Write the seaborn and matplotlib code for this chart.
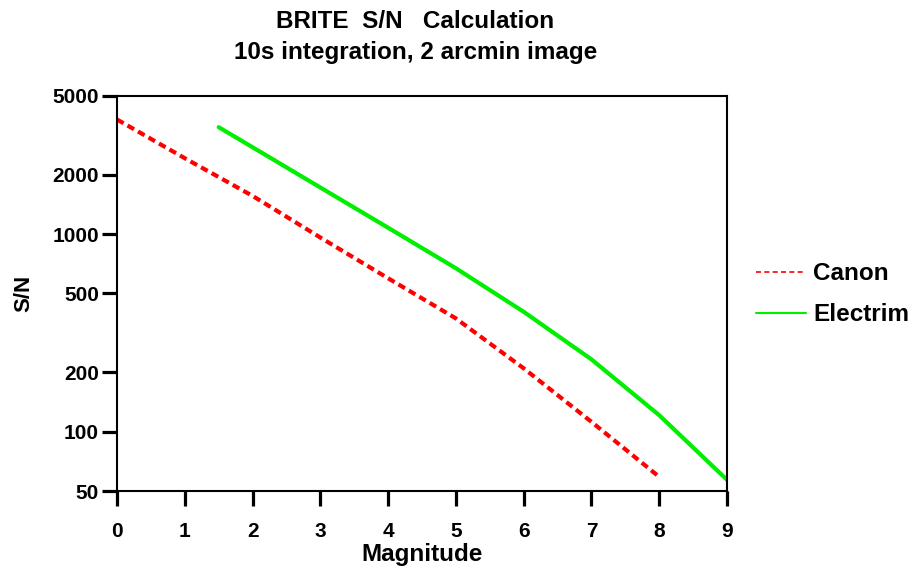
import numpy as np
import matplotlib
matplotlib.use("Agg")
import matplotlib.pyplot as plt
import matplotlib.ticker as mticker
from matplotlib.lines import Line2D
import pandas as pd
import seaborn as sns

# values
canon_mag = [0, 1, 2, 3, 4, 5, 6, 7, 8]
canon_sn = [3800, 2420, 1560, 960, 597, 374, 209, 112, 59]
electrim_mag = [1.5, 2, 3, 4, 5, 6, 7, 8, 9]
electrim_sn = [3475, 2750, 1720, 1076, 671, 404, 232, 121, 57]
yticks = [50, 100, 200, 500, 1000, 2000, 5000]
xticks = list(range(10))

sns.set_style("white")
plt.rcParams["font.family"] = ["Liberation Sans", "DejaVu Sans"]
plt.rcParams["font.weight"] = "bold"
plt.rcParams["text.color"] = "black"
plt.rcParams["axes.labelcolor"] = "black"
plt.rcParams["xtick.color"] = "black"
plt.rcParams["ytick.color"] = "black"

canon = pd.DataFrame({"mag": canon_mag, "sn": canon_sn})
electrim = pd.DataFrame({"mag": electrim_mag, "sn": electrim_sn})

fig = plt.figure(figsize=(9.15, 5.73), dpi=100)
ax = fig.add_axes([0.1279, 0.1431, 0.6666, 0.6894])

sns.lineplot(data=canon, x="mag", y="sn", ax=ax, color="#ff0000", lw=3,
             linestyle=(0, (1.8, 1.1)))
sns.lineplot(data=electrim, x="mag", y="sn", ax=ax, color="#00ee00", lw=3)

ax.set_yscale("log")
ax.set_ylim(50, 5000)
ax.set_xlim(0, 9)
ax.set_yticks(yticks)
ax.yaxis.set_major_formatter(mticker.FuncFormatter(lambda v, p: f"{int(v)}"))
ax.yaxis.set_minor_locator(mticker.NullLocator())
ax.set_xticks(xticks)
ax.tick_params(axis="both", direction="out", length=11, width=2.3,
               labelsize=15, left=True, bottom=True)
ax.tick_params(axis="x", pad=11)
ax.tick_params(axis="y", pad=2)
for s in ax.spines.values():
    s.set_linewidth(1.5)
    s.set_color("black")

ax.set_xlabel("Magnitude", fontsize=17.5, fontweight="bold", labelpad=2)
ax.set_ylabel("S/N", fontsize=16, fontweight="bold", labelpad=13)

fig.text(0.454, 0.963, "BRITE  S/N   Calculation", ha="center", va="center",
         fontsize=17.5, fontweight="bold")
fig.text(0.454, 0.908, "10s integration, 2 arcmin image", ha="center",
         va="center", fontsize=17.5, fontweight="bold")

handles = [Line2D([], [], color="#ff0000", lw=1.2, linestyle=(0, (3, 2))),
           Line2D([], [], color="#00ee00", lw=1.5)]
fig.legend(handles, ["Canon", "Electrim"], loc="center left",
           bbox_to_anchor=(0.826, 0.4865), bbox_transform=fig.transFigure,
           frameon=False, fontsize=17.5, borderpad=0, borderaxespad=0,
           handlelength=2.05, handletextpad=0.3, labelspacing=0.75)

fig.savefig("out.png", dpi=100)
